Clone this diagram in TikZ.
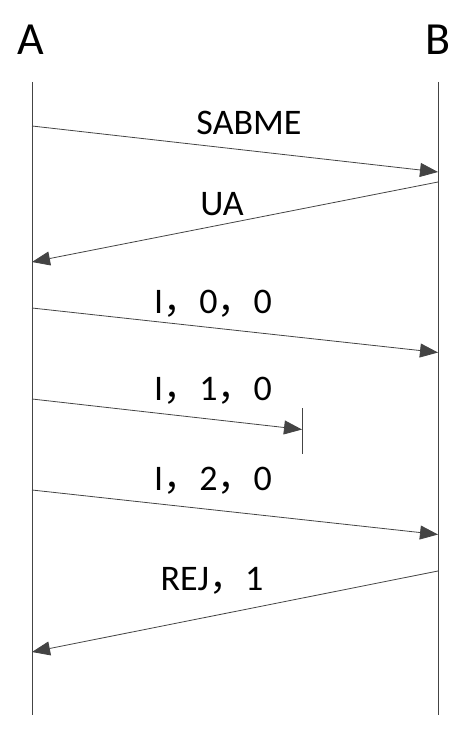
\documentclass[tikz,border=0pt]{standalone}
\usepackage{fontspec}
\setmainfont{Carlito}
\newfontfamily\cjk{Noto Sans CJK SC}
\usetikzlibrary{arrows.meta}
\definecolor{linegray}{HTML}{444444}
\newcommand{\cm}{{\cjk ，}}
\tikzset{
  life/.style={draw=linegray, line width=0.8pt},
  msg/.style={draw=linegray, line width=0.8pt, -{Triangle[length=18pt,width=14pt,fill=linegray]}},
  lbl/.style={font=\fontsize{36}{40}\selectfont, anchor=base, inner sep=0pt, text=black},
  party/.style={font=\fontsize{46}{50}\selectfont, anchor=base, inner sep=0pt, text=black}
}
\begin{document}
\begin{tikzpicture}[x=1pt,y=-1pt]
\useasboundingbox (0,0) rectangle (461,735);
% parties
\node[party] (A) at (31,55) {A};
\node[party] (B) at (438,55) {B};
% lifelines
\coordinate (At) at (32,82); \coordinate (Ab) at (32,715);
\coordinate (Bt) at (438,82); \coordinate (Bb) at (438,715);
\draw[life] (At) -- (Ab);
\draw[life] (Bt) -- (Bb);
% message points
\coordinate (m1s) at (32,126);  \coordinate (m1e) at (438,172);
\coordinate (m2s) at (438,182); \coordinate (m2e) at (32,262);
\coordinate (m3s) at (32,308);  \coordinate (m3e) at (438,352.5);
\coordinate (m4s) at (32,399);  \coordinate (m4e) at (302,429.5);
\coordinate (t1) at (302,408);  \coordinate (t2) at (302,454);
\coordinate (m5s) at (32,490);  \coordinate (m5e) at (438,534.5);
\coordinate (m6s) at (438,571); \coordinate (m6e) at (32,652);
% messages
\draw[msg] (m1s) -- (m1e);
\draw[msg] (m2s) -- (m2e);
\draw[msg] (m3s) -- (m3e);
\draw[msg] (m4s) -- (m4e);
\draw[life] (t1) -- (t2);
\draw[msg] (m5s) -- (m5e);
\draw[msg] (m6s) -- (m6e);
% labels
\node[lbl] (l1) at (249,135) {SABME};
\node[lbl] (l2) at (222,215) {UA};
\node[lbl] (l3) at (213,313) {I\cm 0\cm 0};
\node[lbl] (l4) at (213,400) {I\cm 1\cm 0};
\node[lbl] (l5) at (213,490) {I\cm 2\cm 0};
\node[lbl] (l6) at (212,590) {REJ\cm 1};
\end{tikzpicture}
\end{document}
